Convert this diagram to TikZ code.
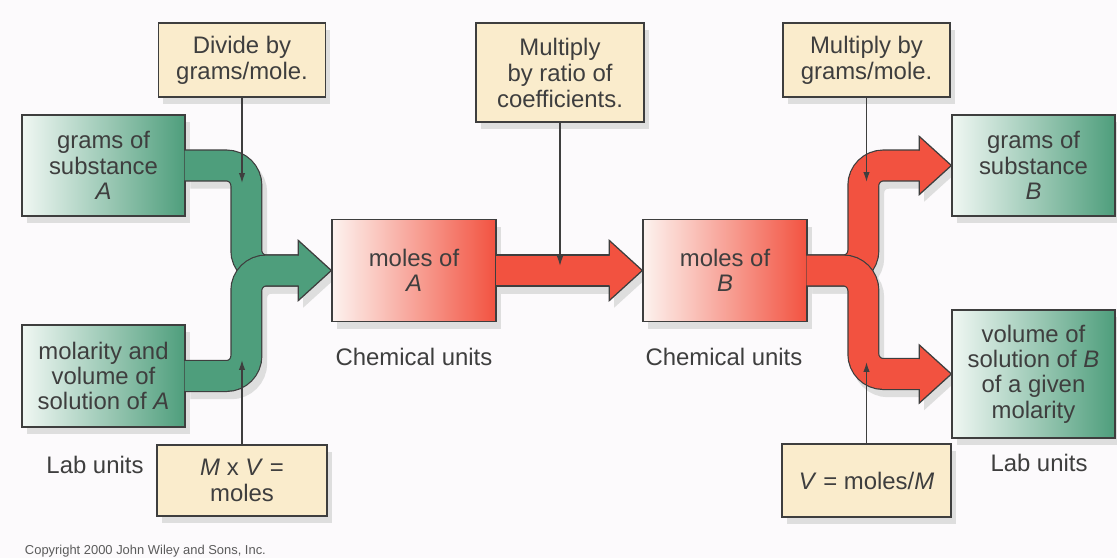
\documentclass[tikz,border=0pt]{standalone}
\usepackage{fontspec}
\setmainfont{Liberation Sans}
\usetikzlibrary{arrows.meta, calc, shadows, backgrounds}

\definecolor{pipegreen}{RGB}{78,158,124}
\definecolor{greenlight}{RGB}{240,247,243}
\definecolor{pipered}{RGB}{242,82,64}
\definecolor{redlight}{RGB}{253,243,239}
\definecolor{notetan}{RGB}{250,236,204}
\definecolor{inkgray}{RGB}{62,62,62}
\definecolor{bgpaper}{RGB}{252,250,252}

\begin{document}
\begin{tikzpicture}[x=0.025cm, y=-0.025cm,
    boxbase/.style={draw=inkgray, line width=0.9pt, text=inkgray, align=center, inner sep=0pt,
      font=\fontsize{17}{18}\selectfont,
      drop shadow={shadow xshift=0.12cm, shadow yshift=-0.18cm, fill=black!13, opacity=1}},
    labbox/.style={boxbase, left color=greenlight, right color=pipegreen, minimum width=4.075cm},
    molbox/.style={boxbase, left color=redlight, right color=pipered, minimum width=4.1cm, minimum height=2.55cm},
    notebox/.style={boxbase, fill=notetan, font=\fontsize{17}{18.5}\selectfont},
    unitnote/.style={text=inkgray, font=\fontsize{17}{18}\selectfont},
    pipe/.style={draw=inkgray, line width=0.8cm, rounded corners=0.5cm, postaction={draw=#1, line width=0.74cm}},
    head/.style={fill=#1, draw=inkgray, line width=0.9pt},
    pointer/.style={draw=inkgray, line width=0.9pt, -{Latex[length=7pt, width=4.5pt]}},
    pipeshadow/.style={draw=black!13, line width=0.8cm, rounded corners=0.5cm}]

  \useasboundingbox (0,0) rectangle (1117,558);

  % lab units (green)
  \node[labbox, minimum height=2.525cm] (gramsA) at (103.5,165.5) {grams of\\substance\\\textit{A}};
  \node[labbox, minimum height=2.55cm] (molA) at (103.5,376) {molarity and\\volume of\\solution of \textit{A}};
  \node[labbox, minimum height=2.525cm] (gramsB) at (1033.5,165.5) {grams of\\substance\\\textit{B}};
  \node[labbox, minimum height=3.2cm] (volB) at (1033.5,374) {volume of\\solution of \textit{B}\\of a given\\molarity};

  % chemical units (red)
  \node[molbox] (molesA) at (414,270.5) {moles of\\\textit{A}};
  \node[molbox] (molesB) at (725,270.5) {moles of\\\textit{B}};

  % notes
  \node[notebox, minimum width=4.175cm, minimum height=1.85cm] (divA) at (242,60) {Divide by\\grams/mole.};
  \node[notebox, minimum width=4.25cm, minimum height=1.775cm] (mxv) at (242,480.5) {\textit{M} x \textit{V} =\\moles};
  \node[notebox, minimum width=4.2cm, minimum height=2.475cm] (ratio) at (560,72.5) {Multiply\\by ratio of\\coefficients.};
  \node[notebox, minimum width=4.175cm, minimum height=1.85cm] (mulB) at (866.5,60) {Multiply by\\grams/mole.};
  \node[notebox, minimum width=4.225cm, minimum height=1.825cm] (vB) at (866.5,480.5) {\textit{V} = moles/\textit{M}};

  % labels under the boxes
  \node[unitnote] (labA) at (95,465) {Lab units};
  \node[unitnote] (chemA) at (414,357) {Chemical units};
  \node[unitnote] (chemB) at (724,357) {Chemical units};
  \node[unitnote] (labB) at (1039,463) {Lab units};
  \node[anchor=base west, text=inkgray!85, font=\fontsize{9.2}{11}\selectfont] (copy) at (20,554) {Copyright 2000 John Wiley and Sons, Inc.};

  % paper and pipe shadows
  \begin{scope}[on background layer]
    \fill[bgpaper] (0,0) rectangle (1117,558);
    \begin{scope}[transform canvas={xshift=0.12cm, yshift=-0.18cm}]
      \draw[pipeshadow] (gramsA.east) -| ($(molesA.west)+(-85,0)$) -- ($(molesA.west)+(-32,0)$);
      \draw[pipeshadow] (molA.east) -| ($(molesA.west)+(-85,0)$) -- ($(molesA.west)+(-32,0)$);
      \draw[pipeshadow] (molesA.east) -- ($(molesB.west)+(-32,0)$);
      \draw[pipeshadow] (molesB.east) -| ($(gramsB.west)+(-88,0)$) -- ($(gramsB.west)+(-31,0)$);
      \draw[pipeshadow] (molesB.east) -| ($(volB.west)+(-88,0)$) -- ($(volB.west)+(-31,0)$);
      \fill[black!13] ($(molesA.west)+(-33,-30)$) -- (molesA.west) -- ++(-33,30) -- cycle;
      \fill[black!13] ($(molesB.west)+(-33,-30)$) -- (molesB.west) -- ++(-33,30) -- cycle;
      \fill[black!13] ($(gramsB.west)+(-32,-29)$) -- (gramsB.west) -- ++(-32,29) -- cycle;
      \fill[black!13] ($(volB.west)+(-32,-29)$) -- (volB.west) -- ++(-32,29) -- cycle;
    \end{scope}
  \end{scope}

  % green pipes into moles of A
  \draw[pipe=pipegreen] ($(gramsA.east)+(-1,0)$) -| ($(molesA.west)+(-85,0)$) -- ($(molesA.west)+(-32,0)$);
  \draw[pipe=pipegreen] ($(molA.east)+(-1,0)$) -| ($(molesA.west)+(-85,0)$) -- ($(molesA.west)+(-32,0)$);
  \filldraw[head=pipegreen] ($(molesA.west)+(-33,-15)$) -- ++(0,-15) -- (molesA.west) -- ++(-33,30) -- ++(0,-15);

  % red pipe from A to B
  \draw[pipe=pipered] ($(molesA.east)+(-1,0)$) -- ($(molesB.west)+(-32,0)$);
  \filldraw[head=pipered] ($(molesB.west)+(-33,-15)$) -- ++(0,-15) -- (molesB.west) -- ++(-33,30) -- ++(0,-15);

  % red pipes out of moles of B
  \draw[pipe=pipered] ($(molesB.east)+(-1,0)$) -| ($(gramsB.west)+(-88,0)$) -- ($(gramsB.west)+(-31,0)$);
  \draw[pipe=pipered] ($(molesB.east)+(-1,0)$) -| ($(volB.west)+(-88,0)$) -- ($(volB.west)+(-31,0)$);
  \filldraw[head=pipered] ($(gramsB.west)+(-32,-15)$) -- ++(0,-14) -- (gramsB.west) -- ++(-32,29) -- ++(0,-14);
  \filldraw[head=pipered] ($(volB.west)+(-32,-15)$) -- ++(0,-14) -- (volB.west) -- ++(-32,29) -- ++(0,-14);

  % pointers from the notes
  \coordinate (tipA1) at (242,183);
  \coordinate (tipA2) at (242,360);
  \coordinate (tipM) at (560,266);
  \coordinate (tipB1) at (866.5,182);
  \coordinate (tipB2) at (866.5,362);
  \draw[pointer] (divA) -- (tipA1);
  \draw[pointer] (mxv) -- (tipA2);
  \draw[pointer] (ratio) -- (tipM);
  \draw[pointer] (mulB) -- (tipB1);
  \draw[pointer] (vB) -- (tipB2);

\end{tikzpicture}
\end{document}
